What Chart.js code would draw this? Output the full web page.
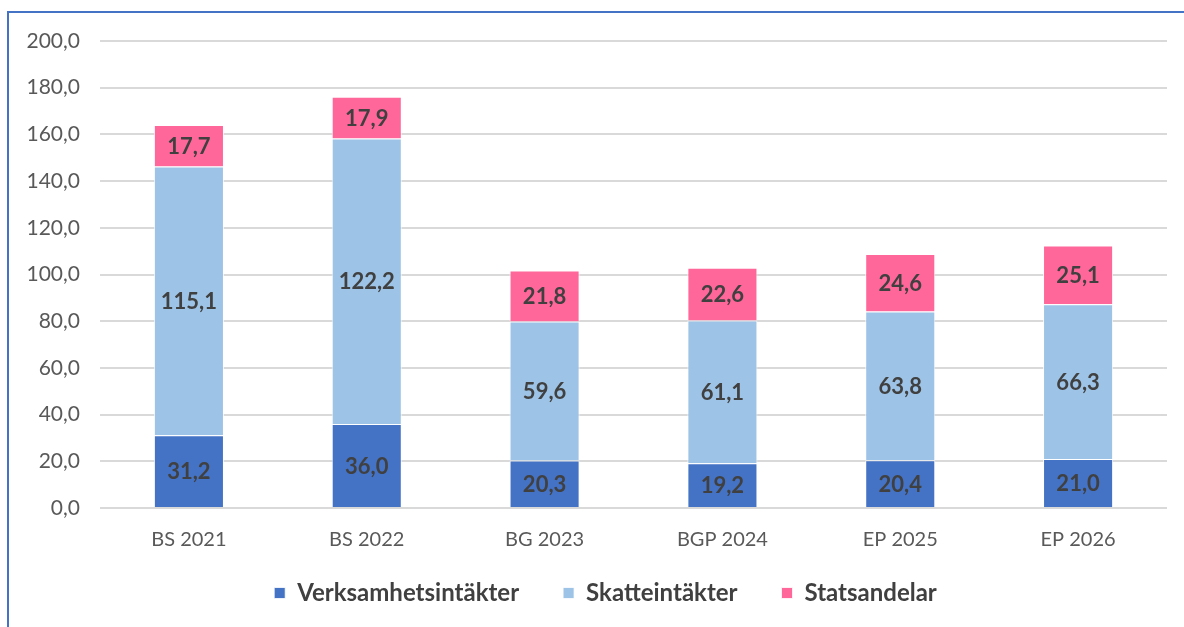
<!DOCTYPE html>
<html>
<head>
<meta charset="utf-8">
<script src="https://cdn.jsdelivr.net/npm/chart.js@4/dist/chart.umd.min.js"></script>
<style>
	html, body { margin: 0; padding: 0; background: #fff; overflow: hidden; }
	#ram { position: absolute; left: 7px; top: 11px; width: 1200px; height: 640px;
		border-left: 2px solid #4472C4; border-top: 2px solid #4472C4; }
	#wrap { position: absolute; left: 0; top: 0; width: 1184px; height: 627px; }
</style>
</head>
<body>
<div id="ram"></div>
<div id="wrap"><canvas id="chart_stapel"></canvas></div>
<script>
	var kategorier = ["BS 2021", "BS 2022", "BG 2023", "BGP 2024", "EP 2025", "EP 2026"];
	var verksamhet = [31.2, 36.0, 20.3, 19.2, 20.4, 21.0];
	var skatte = [115.1, 122.2, 59.6, 61.1, 63.8, 66.3];
	var statsandelar = [17.7, 17.9, 21.8, 22.6, 24.6, 25.1];
	var yTicks = [0, 20, 40, 60, 80, 100, 120, 140, 160, 180, 200];

	var typsnitt = "Lato, 'Open Sans', sans-serif";

	function komma(v){
		return v.toFixed(1).replace('.', ',');
	}

	// skriver värdena mitt i varje stapeldel
	var etiketter = {
		id: 'etiketter',
		afterLayout: function(chart){
			// flyttar förklaringen lite åt höger som i originalet
			chart.legend.left += 22;
			chart.legend.right += 22;
		},
		afterDatasetsDraw: function(chart){
			var ctx = chart.ctx;
			ctx.save();
			ctx.font = "bold 22px " + typsnitt;
			ctx.fillStyle = "#404040";
			ctx.textAlign = "center";
			ctx.textBaseline = "middle";
			chart.data.datasets.forEach(function(ds, i){
				var meta = chart.getDatasetMeta(i);
				meta.data.forEach(function(bar, j){
					var p = bar.getCenterPoint();
					ctx.fillText(komma(ds.data[j]), p.x, p.y + 1);
				});
			});
			ctx.restore();
		}
	};

	var datos = {
		type: "bar",
		data: {
			labels: kategorier,
			datasets: [
				{ label: "Verksamhetsintäkter", data: verksamhet, backgroundColor: "#4472C4" },
				{ label: "Skatteintäkter", data: skatte, backgroundColor: "#9DC3E6" },
				{ label: "Statsandelar", data: statsandelar, backgroundColor: "#FF6699" }
			]
		},
		options: {
			responsive: true,
			maintainAspectRatio: false,
			animation: false,
			datasets: {
				bar: {
					barPercentage: 0.394,
					categoryPercentage: 1,
					borderWidth: 1,
					borderColor: "rgba(255,255,255,0.8)"
				}
			},
			layout: { padding: { top: 41, right: 17, left: 0, bottom: 12 } },
			plugins: {
				tooltip: { enabled: false },
				legend: {
					position: "bottom",
					labels: {
						boxWidth: 11,
						boxHeight: 11,
						padding: 44,
						color: "#404040",
						font: { family: typsnitt, size: 24, weight: "bold" }
					}
				}
			},
			scales: {
				x: {
					stacked: true,
					grid: { display: false },
					border: { display: false },
					ticks: { color: "#595959", padding: 12, font: { family: typsnitt, size: 20 } },
					afterFit: function(s){
						s.height = 29;
						s._computeLabelArea = function(){ return undefined; }; // ingen klippning av etiketterna
					}
				},
				y: {
					stacked: true,
					min: 0,
					max: 200,
					afterBuildTicks: function(s){
						s.ticks = yTicks.map(function(v){ return { value: v }; });
					},
					afterFit: function(s){ s.width = 100; },
					grid: { color: "#D9D9D9", lineWidth: 2, drawTicks: false },
					border: { display: false },
					ticks: {
						color: "#595959",
						padding: 20,
						font: { family: typsnitt, size: 21 },
						callback: function(v){ return komma(v); }
					}
				}
			}
		},
		plugins: [etiketter]
	};

	var canvas = document.getElementById('chart_stapel').getContext('2d');
	window.stapel = new Chart(canvas, datos);
</script>
</body>
</html>
